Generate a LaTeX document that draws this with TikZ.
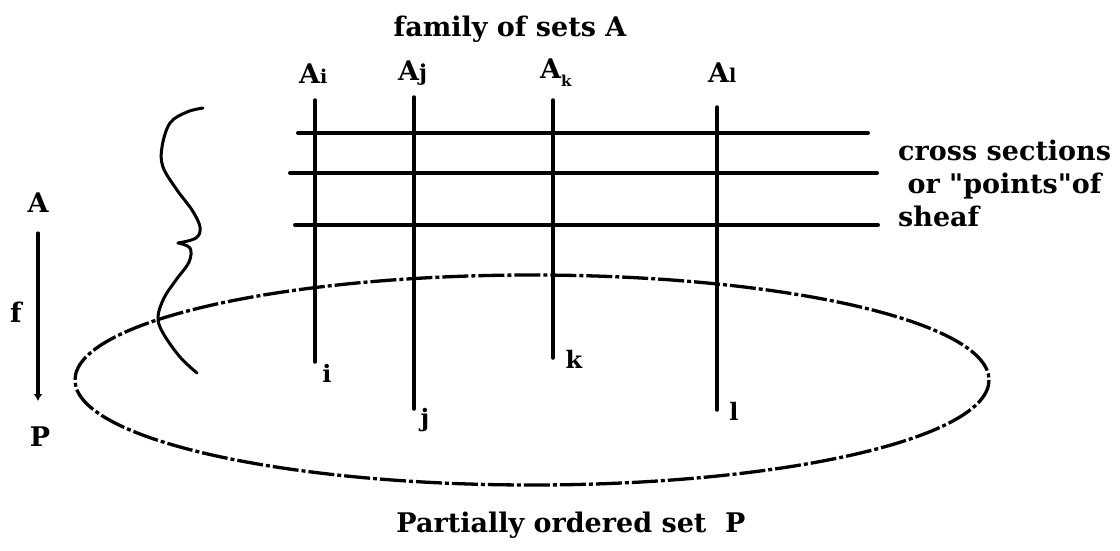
\documentclass[tikz,border=0pt]{standalone}
\usepackage{fontspec}
\setmainfont{DejaVu Serif}
\usetikzlibrary{arrows.meta}
\newcommand{\sq}{{\addfontfeature{Ligatures=TeXOff}"}}
\begin{document}
\begin{tikzpicture}[x=1pt,y=-1pt,
  lbl/.style={font=\fontsize{27}{31}\selectfont\bfseries, inner sep=0pt},
  sublbl/.style={font=\fontsize{24}{27}\selectfont\bfseries, inner sep=0pt},
  stem/.style={line width=3.5pt, line cap=round},
  crosssec/.style={line width=4pt, line cap=round},
  basestyle/.style={line width=3.3pt, dash pattern=on 26pt off 3pt on 4pt off 3pt},
  squiggle/.style={line width=3pt, line cap=round, line join=round}]
\useasboundingbox (0,0) rectangle (1120,550);

% titles
\node[lbl, anchor=base] (title) at (510,36) {family of sets A};
\node[lbl, anchor=base west] (Ai) at (299,83) {A{\fontsize{19}{21}\selectfont i}};
\node[lbl, anchor=base west] (Aj) at (398,80) {A{\fontsize{22}{24}\selectfont j}};
\node[lbl, anchor=base west] (Ak) at (540,78) {A\raisebox{-8pt}{\fontsize{15}{17}\selectfont k}};
\node[lbl, anchor=base west] (Al) at (708,82) {A{\fontsize{19}{21}\selectfont l}};

% stalk coordinates
\coordinate (ti) at (315,100);  \coordinate (bi) at (315,362);
\coordinate (tj) at (414,97);   \coordinate (bj) at (414,409);
\coordinate (tk) at (553,100);  \coordinate (bk) at (553,358);
\coordinate (tl) at (717,107);  \coordinate (bl) at (717,410);

% base set ellipse
\draw[basestyle] (532,380) ellipse [x radius=457, y radius=105];

% cross sections
\coordinate (h1a) at (298,133); \coordinate (h1b) at (868,133);
\coordinate (h2a) at (290,173); \coordinate (h2b) at (877,173);
\coordinate (h3a) at (295,225); \coordinate (h3b) at (878,225);
\draw[crosssec] (h1a) -- (h1b);
\draw[crosssec] (h2a) -- (h2b);
\draw[crosssec] (h3a) -- (h3b);

% stalks
\draw[stem] (ti) -- (bi);
\draw[stem] (tj) -- (bj);
\draw[stem] (tk) -- (bk);
\draw[stem] (tl) -- (bl);

% stalk labels
\node[sublbl, anchor=base] (li) at (327,382) {i};
\node[sublbl, anchor=base] (lj) at (425,426) {j};
\node[sublbl, anchor=base] (lk) at (574,368) {k};
\node[sublbl, anchor=base] (ll) at (734,420) {l};

% right text
\node[lbl, anchor=base west] (cs1) at (898,160) {cross sections};
\node[lbl, anchor=base west] (cs2) at (898,193) {\ or \sq points\sq of};
\node[lbl, anchor=base west] (cs3) at (898,226) {sheaf};

% squiggle brace
\draw[squiggle] plot[smooth, tension=0.6] coordinates {(203,108) (187,112) (170,123) (162,147) (163,167) (177,190) (192,210) (200,227) (196,238) (178,243)};
\draw[squiggle] plot[smooth, tension=0.6] coordinates {(178,243) (190,248) (189,262) (176,280) (164,298) (158,317) (163,333) (180,357) (197,373)};

% left map
\node[lbl, anchor=base] (A) at (38,212) {A};
\node[lbl, anchor=base] (P) at (40,446) {P};
\node[lbl, anchor=base] (f) at (16,322) {f};
\draw[stem, -{Latex[length=7pt,width=9pt]}] (A.south) ++(0,21) coordinate (fa) (fa) -- (38,401) coordinate (fb);

% bottom caption
\node[lbl, anchor=base] (cap) at (571,532) {Partially ordered set\ \ P};
\end{tikzpicture}
\end{document}
